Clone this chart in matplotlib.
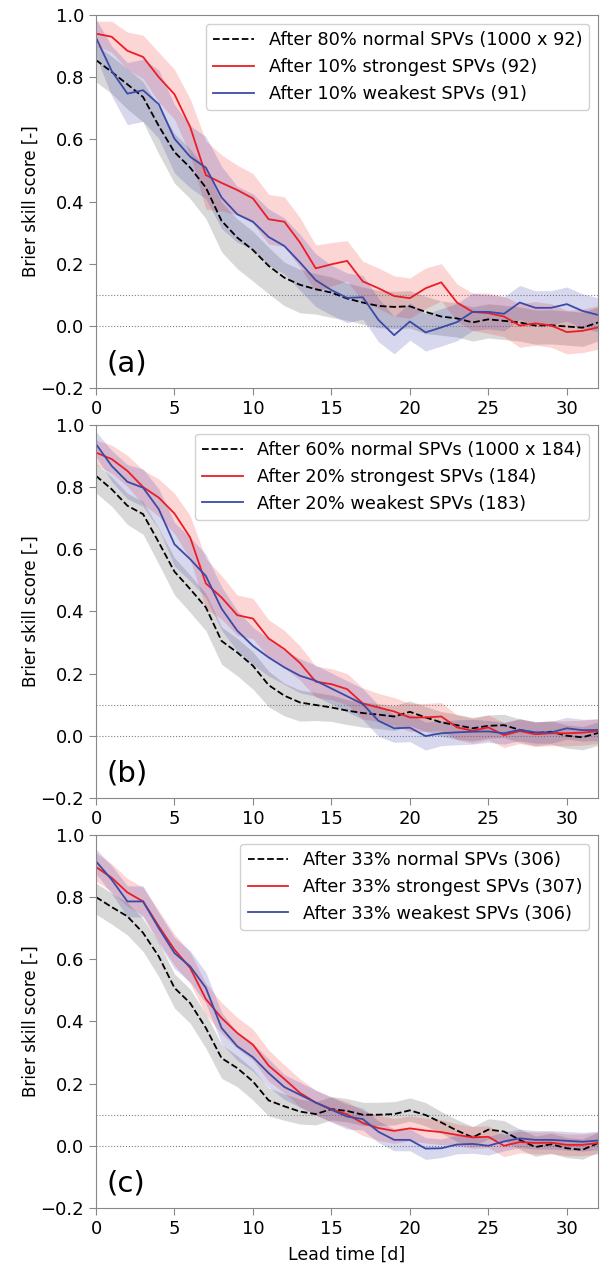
import numpy as np
import matplotlib
matplotlib.use("Agg")
import matplotlib.pyplot as plt

lead = np.arange(0, 33)

# panel (a): 80% normal / 10% strongest / 10% weakest
norm_a = [0.855, 0.817, 0.777, 0.736, 0.643, 0.559, 0.509, 0.445, 0.338, 0.284, 0.244,
          0.193, 0.155, 0.132, 0.118, 0.107, 0.088, 0.075, 0.064, 0.061, 0.063, 0.045,
          0.030, 0.024, 0.011, 0.021, 0.016, 0.011, 0.001, 0.002, -0.002, -0.006, 0.011]
strong_a = [0.940, 0.930, 0.885, 0.865, 0.800, 0.745, 0.640, 0.485, 0.460, 0.437, 0.410,
            0.343, 0.335, 0.268, 0.185, 0.198, 0.209, 0.143, 0.121, 0.096, 0.089, 0.121,
            0.140, 0.075, 0.045, 0.041, 0.030, 0.001, 0.008, 0.001, -0.020, -0.016, -0.005]
weak_a = [0.927, 0.820, 0.747, 0.758, 0.713, 0.602, 0.544, 0.509, 0.413, 0.359, 0.335,
          0.286, 0.257, 0.204, 0.147, 0.115, 0.090, 0.092, 0.019, -0.030, 0.014, -0.021,
          -0.005, 0.012, 0.045, 0.045, 0.039, 0.075, 0.058, 0.058, 0.070, 0.048, 0.035]

# panel (b): 60% normal / 20% strongest / 20% weakest
norm_b = [0.836, 0.793, 0.740, 0.713, 0.622, 0.528, 0.472, 0.413, 0.305, 0.268, 0.225,
          0.163, 0.129, 0.107, 0.099, 0.091, 0.081, 0.073, 0.068, 0.062, 0.077, 0.059,
          0.043, 0.034, 0.024, 0.032, 0.034, 0.019, 0.008, 0.013, 0.000, -0.005, 0.009]
strong_b = [0.911, 0.890, 0.852, 0.800, 0.766, 0.715, 0.638, 0.490, 0.445, 0.388, 0.377,
            0.313, 0.279, 0.234, 0.174, 0.166, 0.150, 0.104, 0.091, 0.078, 0.059, 0.059,
            0.062, 0.027, 0.016, 0.027, 0.002, 0.015, 0.005, 0.008, 0.008, 0.010, 0.015]
weak_b = [0.938, 0.868, 0.817, 0.798, 0.729, 0.616, 0.568, 0.514, 0.409, 0.338, 0.289,
          0.252, 0.220, 0.193, 0.177, 0.152, 0.127, 0.102, 0.048, 0.024, 0.026, -0.001,
          0.008, 0.011, 0.013, 0.014, 0.008, 0.019, 0.011, 0.011, 0.024, 0.018, 0.019]

# panel (c): 33% normal / 33% strongest / 33% weakest
norm_c = [0.800, 0.768, 0.738, 0.685, 0.609, 0.508, 0.459, 0.379, 0.282, 0.250, 0.207,
          0.146, 0.127, 0.110, 0.102, 0.118, 0.112, 0.100, 0.100, 0.102, 0.114, 0.099,
          0.075, 0.049, 0.027, 0.052, 0.046, 0.019, -0.004, 0.005, -0.008, -0.013, 0.009]
strong_c = [0.897, 0.862, 0.815, 0.786, 0.706, 0.631, 0.572, 0.472, 0.411, 0.363, 0.325,
            0.258, 0.215, 0.170, 0.139, 0.118, 0.101, 0.073, 0.057, 0.048, 0.056, 0.049,
            0.044, 0.035, 0.027, 0.029, 0.000, 0.012, 0.009, 0.010, 0.003, 0.003, 0.009]
weak_c = [0.915, 0.856, 0.786, 0.786, 0.700, 0.620, 0.577, 0.508, 0.379, 0.320, 0.285,
          0.234, 0.189, 0.164, 0.139, 0.116, 0.094, 0.086, 0.045, 0.019, 0.019, -0.009,
          -0.008, 0.004, 0.006, 0.000, 0.014, 0.024, 0.019, 0.019, 0.016, 0.013, 0.017]

# spread of the shaded bands (below / above the line)
norm_lo_a = [0.07, 0.07, 0.08, 0.08, 0.09, 0.10, 0.10, 0.10, 0.10, 0.10, 0.10,
             0.09, 0.09, 0.09, 0.08, 0.08, 0.07, 0.07, 0.07, 0.07, 0.07, 0.07,
             0.06, 0.06, 0.06, 0.06, 0.06, 0.06, 0.06, 0.06, 0.06, 0.06, 0.06]
norm_hi_a = [0.05, 0.05, 0.05, 0.05, 0.06, 0.06, 0.06, 0.06, 0.06, 0.06, 0.06,
             0.06, 0.05, 0.05, 0.05, 0.05, 0.05, 0.05, 0.05, 0.05, 0.05, 0.05,
             0.05, 0.05, 0.05, 0.05, 0.05, 0.05, 0.05, 0.05, 0.05, 0.05, 0.05]
strong_w_a = [0.04, 0.05, 0.06, 0.07, 0.08, 0.08, 0.09, 0.11, 0.09, 0.08, 0.08,
              0.08, 0.08, 0.08, 0.075, 0.07, 0.065, 0.065, 0.065, 0.065, 0.065, 0.065,
              0.06, 0.06, 0.06, 0.065, 0.065, 0.07, 0.07, 0.07, 0.07, 0.07, 0.07]
weak_w_a = [0.06, 0.08, 0.10, 0.10, 0.11, 0.11, 0.10, 0.10, 0.10, 0.09, 0.09,
            0.09, 0.09, 0.09, 0.085, 0.08, 0.08, 0.07, 0.07, 0.06, 0.06, 0.06,
            0.06, 0.06, 0.06, 0.055, 0.055, 0.055, 0.055, 0.055, 0.055, 0.055, 0.055]

norm_lo_b = [0.055, 0.055, 0.06, 0.065, 0.07, 0.075, 0.075, 0.075, 0.075, 0.075, 0.075,
             0.07, 0.065, 0.06, 0.05, 0.045, 0.045, 0.045, 0.045, 0.045, 0.045, 0.045,
             0.045, 0.045, 0.04, 0.04, 0.04, 0.04, 0.04, 0.04, 0.04, 0.04, 0.04]
norm_hi_b = [0.04, 0.04, 0.04, 0.04, 0.045, 0.045, 0.045, 0.045, 0.045, 0.045, 0.045,
             0.045, 0.04, 0.04, 0.04, 0.04, 0.035, 0.035, 0.035, 0.035, 0.035, 0.035,
             0.035, 0.035, 0.035, 0.035, 0.035, 0.035, 0.035, 0.035, 0.035, 0.035, 0.035]
strong_w_b = [0.04, 0.045, 0.05, 0.055, 0.06, 0.065, 0.07, 0.08, 0.07, 0.065, 0.065,
              0.06, 0.06, 0.055, 0.05, 0.05, 0.05, 0.05, 0.045, 0.045, 0.045, 0.045,
              0.045, 0.04, 0.04, 0.04, 0.04, 0.04, 0.04, 0.04, 0.04, 0.04, 0.04]
weak_w_b = [0.04, 0.05, 0.055, 0.06, 0.065, 0.07, 0.07, 0.07, 0.07, 0.065, 0.06,
            0.06, 0.055, 0.055, 0.05, 0.05, 0.05, 0.05, 0.05, 0.045, 0.045, 0.045,
            0.04, 0.04, 0.04, 0.035, 0.035, 0.035, 0.035, 0.035, 0.035, 0.035, 0.035]

norm_lo_c = [0.055, 0.055, 0.06, 0.06, 0.065, 0.065, 0.065, 0.065, 0.065, 0.06, 0.06,
             0.05, 0.045, 0.04, 0.035, 0.035, 0.035, 0.035, 0.035, 0.035, 0.035, 0.035,
             0.035, 0.035, 0.03, 0.03, 0.03, 0.03, 0.03, 0.03, 0.03, 0.03, 0.03]
norm_hi_c = [0.045, 0.045, 0.045, 0.045, 0.045, 0.045, 0.045, 0.045, 0.045, 0.04, 0.04,
             0.04, 0.04, 0.04, 0.04, 0.04, 0.04, 0.04, 0.04, 0.04, 0.04, 0.04,
             0.035, 0.035, 0.035, 0.035, 0.035, 0.035, 0.035, 0.035, 0.035, 0.035, 0.035]
strong_w_c = [0.045, 0.045, 0.045, 0.045, 0.05, 0.05, 0.05, 0.05, 0.05, 0.05, 0.05,
              0.05, 0.045, 0.045, 0.04, 0.04, 0.04, 0.04, 0.04, 0.04, 0.04, 0.04,
              0.04, 0.035, 0.035, 0.035, 0.035, 0.035, 0.035, 0.035, 0.035, 0.035, 0.035]
weak_w_c = [0.04, 0.045, 0.05, 0.05, 0.05, 0.05, 0.05, 0.05, 0.05, 0.045, 0.045,
            0.045, 0.04, 0.04, 0.04, 0.04, 0.04, 0.035, 0.035, 0.035, 0.035, 0.035,
            0.03, 0.03, 0.03, 0.03, 0.03, 0.03, 0.03, 0.03, 0.03, 0.03, 0.03]

labels_a = ["After 80% normal SPVs (1000 x 92)", "After 10% strongest SPVs (92)",
            "After 10% weakest SPVs (91)"]
labels_b = ["After 60% normal SPVs (1000 x 184)", "After 20% strongest SPVs (184)",
            "After 20% weakest SPVs (183)"]
labels_c = ["After 33% normal SPVs (306)", "After 33% strongest SPVs (307)",
            "After 33% weakest SPVs (306)"]

panels = [
    ("(a)", norm_a, norm_lo_a, norm_hi_a, strong_a, strong_w_a, weak_a, weak_w_a, labels_a),
    ("(b)", norm_b, norm_lo_b, norm_hi_b, strong_b, strong_w_b, weak_b, weak_w_b, labels_b),
    ("(c)", norm_c, norm_lo_c, norm_hi_c, strong_c, strong_w_c, weak_c, weak_w_c, labels_c),
]

fig = plt.figure(figsize=(6, 12.71), dpi=100)
bottoms = [0.6947, 0.3722, 0.0496]
spine_col = "#888888"

for (tag, nm, nlo, nhi, st, sw, wk, ww, labs), b in zip(panels, bottoms):
    ax = fig.add_axes([0.16, b, 0.837, 0.2935])
    nm, nlo, nhi = np.array(nm), np.array(nlo), np.array(nhi)
    st, sw, wk, ww = np.array(st), np.array(sw), np.array(wk), np.array(ww)

    ax.axhline(0.0, color="grey", lw=0.8, ls=":", zorder=1)
    ax.axhline(0.1, color="grey", lw=0.8, ls=":", zorder=1)

    ax.fill_between(lead, nm - nlo, nm + nhi, color="grey", alpha=0.3, lw=0)
    ax.fill_between(lead, st - sw, st + sw, color="#f03030", alpha=0.2, lw=0)
    ax.fill_between(lead, wk - ww, wk + ww, color="#3a3aaa", alpha=0.2, lw=0)

    ax.plot(lead, nm, color="black", ls="--", lw=1.3, label=labs[0])
    ax.plot(lead, st, color="#ee1c25", lw=1.3, label=labs[1])
    ax.plot(lead, wk, color="#3a4aa8", lw=1.3, label=labs[2])

    ax.set_xlim(0, 32)
    ax.set_ylim(-0.2, 1.0)
    ax.set_xticks([0, 5, 10, 15, 20, 25, 30])
    ax.set_yticks([-0.2, 0.0, 0.2, 0.4, 0.6, 0.8, 1.0])
    ax.tick_params(labelsize=13, color=spine_col, length=5)
    for s in ax.spines.values():
        s.set_color(spine_col)
    ax.set_ylabel("Brier skill score [-]", fontsize=12)
    ax.yaxis.set_label_coords(-0.112, 0.5)
    ax.text(0.02, 0.045, tag, transform=ax.transAxes, fontsize=21)
    ax.legend(loc="upper right", fontsize=12.8, handlelength=2.3,
              borderaxespad=0.5, framealpha=0.9)

ax.set_xlabel("Lead time [d]", fontsize=12.5, labelpad=6)

plt.savefig("out.png", dpi=100)
